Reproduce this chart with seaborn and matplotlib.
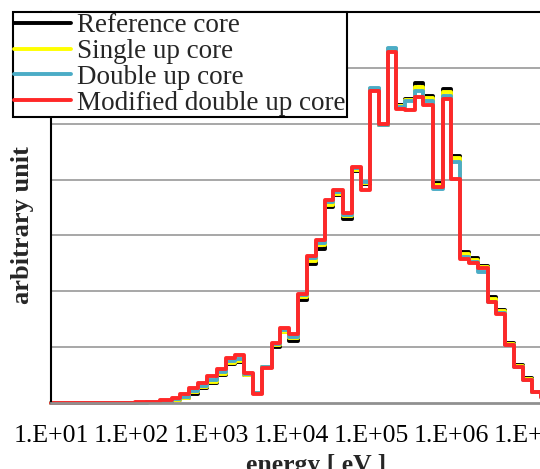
import numpy as np
import pandas as pd
import seaborn as sns
import matplotlib.pyplot as plt
import matplotlib.ticker as mticker

# energy group boundaries [eV]
edges = [10, 40, 70, 112, 158, 230, 325, 410, 531, 688,
         891, 1190, 1540, 2000, 2585, 3350, 4340, 5790, 7290, 9440,
         12230, 15850, 20540, 26600, 33500, 44700, 57900, 75000, 97200, 125900,
         163100, 205400, 266100, 354800, 446700, 595700, 794300, 1.0e6, 1.296e6, 1.679e6,
         2.175e6, 2.9e6, 3.65e6, 4.73e6, 6.13e6, 7.94e6, 1.03e7, 1.33e7, 1.7e7]

reference = [0, 0, 0.002, 0.004, 0.01, 0.025, 0.05, 0.085, 0.17, 0.26,
             0.36, 0.50, 0.69, 0.74, 0.51, 0.18, 0.65, 1.01, 1.27, 1.11,
             1.85, 2.49, 2.76, 3.51, 3.73, 3.30, 4.16, 3.92, 5.62, 4.98,
             6.33, 5.33, 5.44, 5.73, 5.50, 3.94, 5.62, 4.43, 2.70, 2.60,
             2.45, 1.90, 1.66, 1.08, 0.68, 0.44, 0.20, 0.10]
single_up = [0, 0, 0.002, 0.004, 0.012, 0.03, 0.06, 0.095, 0.19, 0.28,
             0.38, 0.52, 0.71, 0.76, 0.51, 0.18, 0.65, 1.03, 1.28, 1.17,
             1.90, 2.55, 2.82, 3.55, 3.75, 3.34, 4.18, 3.93, 5.63, 4.98,
             6.34, 5.31, 5.42, 5.66, 5.46, 3.90, 5.56, 4.38, 2.66, 2.56,
             2.43, 1.86, 1.64, 1.06, 0.66, 0.43, 0.20, 0.10]
double_up = [0, 0, 0.002, 0.005, 0.015, 0.035, 0.07, 0.11, 0.21, 0.31,
             0.41, 0.56, 0.75, 0.79, 0.52, 0.18, 0.65, 1.05, 1.30, 1.19,
             1.93, 2.60, 2.86, 3.60, 3.77, 3.36, 4.20, 3.95, 5.64, 4.98,
             6.35, 5.30, 5.41, 5.59, 5.40, 3.84, 5.50, 4.32, 2.62, 2.53,
             2.34, 1.80, 1.62, 1.03, 0.64, 0.42, 0.19, 0.10]
modified = [0, 0, 0.003, 0.01, 0.025, 0.055, 0.095, 0.155, 0.26, 0.36,
            0.49, 0.61, 0.81, 0.86, 0.53, 0.155, 0.62, 1.08, 1.34, 1.23,
            1.96, 2.64, 2.91, 3.64, 3.82, 3.40, 4.23, 3.82, 5.58, 5.00,
            6.29, 5.27, 5.24, 5.47, 5.34, 3.86, 5.44, 4.01, 2.58, 2.51,
            2.42, 1.81, 1.60, 1.04, 0.65, 0.42, 0.19, 0.10]

series_names = ['Reference core', 'Single up core', 'Double up core', 'Modified double up core']
series_colors = ['#000000', '#FFFF00', '#4BACC6', '#FF2828']
decades = [1e1, 1e2, 1e3, 1e4, 1e5, 1e6, 1e7]
decade_labels = ['1.E+01', '1.E+02', '1.E+03', '1.E+04', '1.E+05', '1.E+06', '1.E+07']

frames = []
for name, vals in zip(series_names, [reference, single_up, double_up, modified]):
    frames.append(pd.DataFrame({'energy': edges, 'value': vals + [vals[-1]], 'core': name}))
df = pd.concat(frames, ignore_index=True)

sns.set_theme(style='white')
plt.rcParams['font.family'] = ['Liberation Serif', 'DejaVu Serif']

fig = plt.figure(figsize=(5.4, 4.69), dpi=100)
ax = fig.add_axes([51 / 540, 66 / 469, 512 / 540, 391 / 469])
sns.lineplot(data=df, x='energy', y='value', hue='core', hue_order=series_names,
             palette=series_colors, drawstyle='steps-post', linewidth=2.8,
             errorbar=None, ax=ax)
for ln in ax.lines:
    ln.set_clip_on(False)

ax.set_xscale('log')
ax.set_xlim(10, 10 ** 7.4)
ax.set_ylim(0, 7)

ax.set_xticks(decades, decade_labels)
ax.xaxis.set_minor_locator(mticker.LogLocator(base=10, subs=np.arange(2, 10)))
ax.xaxis.set_minor_formatter(mticker.NullFormatter())
ax.tick_params(axis='x', which='both', direction='in', color='#888888',
               labelsize=18.5, pad=15.5, labelcolor='black')
ax.tick_params(axis='x', which='major', length=5, width=1.2)
ax.tick_params(axis='x', which='minor', length=3, width=1.2)

ax.set_yticks(range(1, 7))
ax.set_yticklabels([])
ax.tick_params(axis='y', length=0)
ax.yaxis.grid(True, color='#A0A0A0', linewidth=1.3)
ax.xaxis.grid(False)

for side in ['left', 'top', 'right']:
    ax.spines[side].set_color('black')
    ax.spines[side].set_linewidth(1.5)
ax.spines['bottom'].set_color('#909090')
ax.spines['bottom'].set_linewidth(2)

ax.set_xlabel('energy [ eV ]', fontsize=18.5, fontweight='bold')
ax.xaxis.set_label_coords((316 - 51) / 512, -(454 - 403) / 391)
ax.set_ylabel('arbitrary unit', fontsize=19, fontweight='bold')
ax.yaxis.set_label_coords((23 - 51) / 512, (403 - 225) / 391)
ax.yaxis.label.set_va('center')

leg = ax.get_legend()
handles = leg.legend_handles
labels = [t.get_text() for t in leg.get_texts()]
leg.remove()
lg = fig.legend(handles, labels, loc='upper left',
                bbox_to_anchor=(13 / 540, 1 - 12 / 469), bbox_transform=fig.transFigure,
                frameon=True, fancybox=False, edgecolor='black', framealpha=1,
                borderpad=0.05, labelspacing=0.03, handlelength=2.1, handletextpad=0.2,
                borderaxespad=0, fontsize=19.5)
lg.get_frame().set_linewidth(1.5)
for h in lg.legend_handles:
    h.set_linewidth(2.8)

fig.savefig('out.png', dpi=100)
